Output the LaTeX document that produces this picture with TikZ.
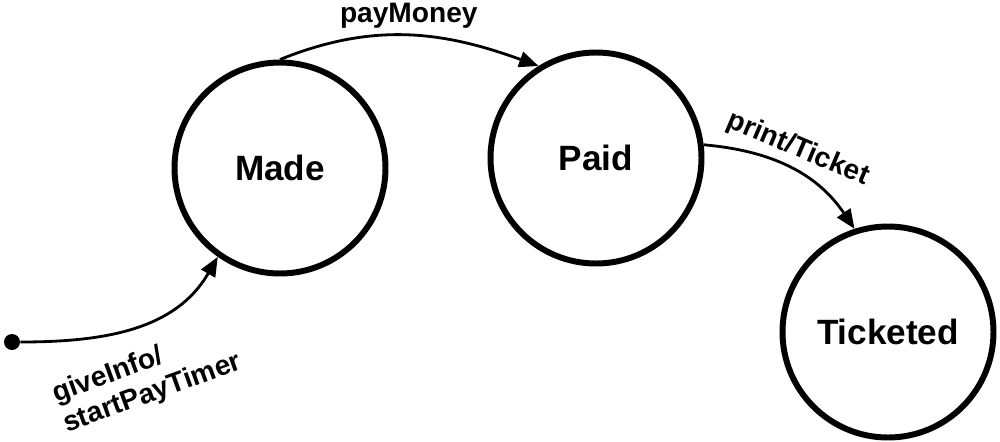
\documentclass[tikz,border=0pt]{standalone}
\usepackage{fontspec}
\setmainfont{Liberation Sans}
\usetikzlibrary{arrows.meta}
\tikzset{
	state/.style={draw, circle, line width=3.4pt, minimum size=4.22cm, inner sep=0pt, font=\fontsize{20}{24}\selectfont\bfseries},
	trans/.style={line width=1.6pt, -{Triangle[length=11pt, width=9pt]}},
	lbl/.style={font=\fontsize{16}{18}\selectfont\bfseries}
}
\begin{document}
\begin{tikzpicture}
	\useasboundingbox (0, 0) rectangle (20, 8.82);
	\node[state] (made) at (5.6, 5.46) {Made};
	\node[state] (paid) at (11.92, 5.66) {Paid};
	\node[state] (ticketed) at (17.76, 2.18) {Ticketed};
	\node[circle, fill, minimum size=0.32cm, inner sep=0pt] (init) at (0.24, 1.98) {};
	\draw[trans] (init) to[out=0, in=240] node[midway, yshift=-0.36cm, anchor=north, rotate=20, align=left, lbl] (give) {giveInfo/\\startPayTimer} (made.235);
	\draw[trans] (made.90) to[out=22, in=160] node[midway, above, lbl] (pay) {payMoney} (paid.122);
	\draw[trans] (paid.7) to[out=-5, in=124] node[midway, anchor=south, rotate=-23, lbl] (print) {print/Ticket} (ticketed.108);
\end{tikzpicture}
\end{document}
